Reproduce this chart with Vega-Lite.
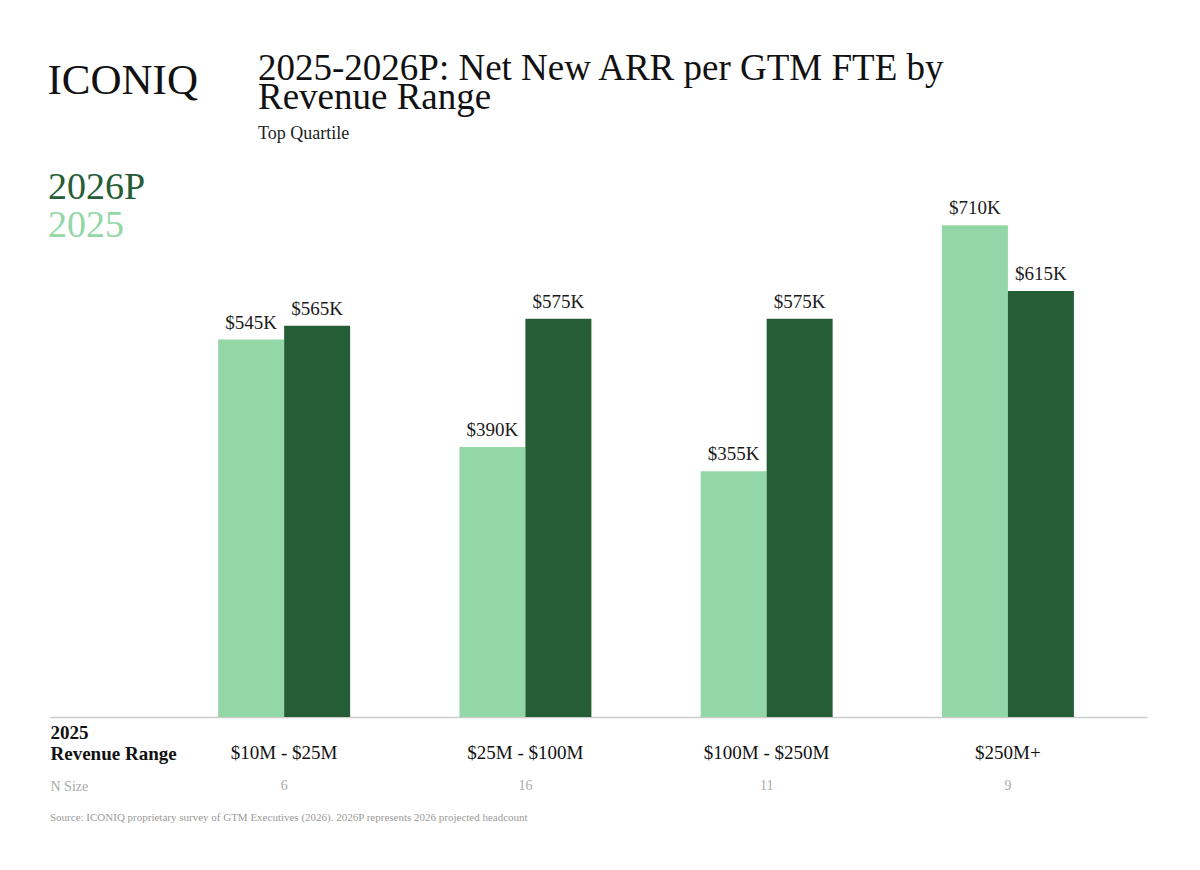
{
  "$schema": "https://vega.github.io/schema/vega-lite/v6.json",
  "padding": {"left": 10, "top": 50, "right": 53, "bottom": 40},
  "background": "white",
  "config": {"view": {"stroke": null}, "font": "Liberation Serif"},
  "title": {
    "text": ["2025-2026P: Net New ARR per GTM FTE by", "Revenue Range"],
    "subtitle": "Top Quartile",
    "anchor": "start",
    "dx": 248,
    "offset": -85,
    "font": "Liberation Serif",
    "fontSize": 37,
    "fontWeight": "normal",
    "lineHeight": 29,
    "color": "#111111",
    "subtitleFont": "Liberation Serif",
    "subtitleFontSize": 18,
    "subtitleColor": "#222222",
    "subtitlePadding": 8
  },
  "datasets": {
    "bars": [
      {"range": "$10M - $25M", "series": "2025", "value": 545},
      {"range": "$10M - $25M", "series": "2026P", "value": 565},
      {"range": "$25M - $100M", "series": "2025", "value": 390},
      {"range": "$25M - $100M", "series": "2026P", "value": 575},
      {"range": "$100M - $250M", "series": "2025", "value": 355},
      {"range": "$100M - $250M", "series": "2026P", "value": 575},
      {"range": "$250M+", "series": "2025", "value": 710},
      {"range": "$250M+", "series": "2026P", "value": 615}
    ],
    "nsize": [
      {"range": "$10M - $25M", "n": 6},
      {"range": "$25M - $100M", "n": 16},
      {"range": "$100M - $250M", "n": 11},
      {"range": "$250M+", "n": 9}
    ]
  },
  "spacing": 13,
  "resolve": {"scale": {"x": "independent"}},
  "vconcat": [
    {
      "width": 1097,
      "height": 554,
      "data": {"name": "bars"},
      "transform": [
        {"calculate": "'$' + datum.value + 'K'", "as": "label"}
      ],
      "encoding": {
        "x": {
          "field": "range",
          "type": "nominal",
          "sort": ["$10M - $25M", "$25M - $100M", "$100M - $250M", "$250M+"],
          "scale": {"type": "band", "paddingInner": 0.453, "paddingOuter": 0.5, "align": 0.697},
          "axis": {
            "labelAngle": 0,
            "labelFont": "Liberation Serif",
            "labelFontSize": 19,
            "labelColor": "#111111",
            "labelPadding": 26,
            "ticks": false,
            "domainColor": "#cccccc",
            "domainWidth": 1.5,
            "title": ["2025", "Revenue Range"],
            "titleFont": "Liberation Serif",
            "titleFontSize": 19,
            "titleFontWeight": "bold",
            "titleColor": "#111111",
            "titleAnchor": "start",
            "titleAlign": "left",
            "titleBaseline": "alphabetic",
            "titleLineHeight": 21,
            "titleX": 0,
            "titleY": 21
          }
        },
        "xOffset": {
          "field": "series",
          "type": "nominal",
          "sort": ["2025", "2026P"],
          "scale": {"paddingInner": 0, "paddingOuter": 0}
        },
        "y": {
          "field": "value",
          "type": "quantitative",
          "scale": {"domain": [0, 800], "nice": false},
          "axis": {
            "title": "ICONIQ",
            "titleAngle": 0,
            "titleAlign": "left",
            "titleBaseline": "alphabetic",
            "titleX": -3,
            "titleY": -70,
            "titleFont": "Liberation Serif",
            "titleFontSize": 43,
            "titleFontWeight": "normal",
            "titleColor": "#111111",
            "labels": false,
            "ticks": false,
            "domain": false,
            "grid": false
          }
        }
      },
      "layer": [
        {
          "mark": {"type": "bar"},
          "encoding": {
            "color": {
              "field": "series",
              "type": "nominal",
              "scale": {"domain": ["2025", "2026P"], "range": ["#93D7A6", "#255E36"]},
              "legend": {
                "orient": "none",
                "legendX": -40,
                "legendY": 6,
                "values": ["2026P", "2025"],
                "title": null,
                "symbolSize": 0,
                "symbolOpacity": 0,
                "symbolStrokeWidth": 0,
                "labelOffset": 0,
                "padding": 0,
                "rowPadding": -2,
                "labelFont": "Liberation Serif",
                "labelFontSize": 38,
                "labelColor": {"expr": "datum.value == '2025' ? '#93D7A6' : '#255E36'"}
              }
            }
          }
        },
        {
          "mark": {"type": "text", "baseline": "bottom", "dy": -7, "font": "Liberation Serif", "fontSize": 19, "color": "#1a1a1a"},
          "encoding": {"text": {"field": "label"}}
        }
      ]
    },
    {
      "width": 1097,
      "height": 20,
      "data": {"name": "nsize"},
      "title": {
        "text": "Source: ICONIQ proprietary survey of GTM Executives (2026). 2026P represents 2026 projected headcount",
        "orient": "bottom",
        "anchor": "start",
        "offset": 16,
        "font": "Liberation Serif",
        "fontSize": 11,
        "fontWeight": "normal",
        "color": "#9a9a9a"
      },
      "mark": {"type": "text", "font": "Liberation Serif", "fontSize": 14, "color": "#aaaaaa"},
      "encoding": {
        "x": {
          "field": "range",
          "type": "nominal",
          "sort": ["$10M - $25M", "$25M - $100M", "$100M - $250M", "$250M+"],
          "scale": {"type": "band", "paddingInner": 0.453, "paddingOuter": 0.5, "align": 0.697},
          "axis": null
        },
        "y": {
          "datum": "N Size",
          "type": "nominal",
          "axis": {
            "title": null,
            "labelAlign": "left",
            "labelPadding": 0,
            "tickSize": 0,
            "ticks": false,
            "domain": false,
            "grid": false,
            "labelFont": "Liberation Serif",
            "labelFontSize": 14,
            "labelColor": "#aaaaaa"
          }
        },
        "text": {"field": "n", "type": "quantitative"}
      }
    }
  ]
}
